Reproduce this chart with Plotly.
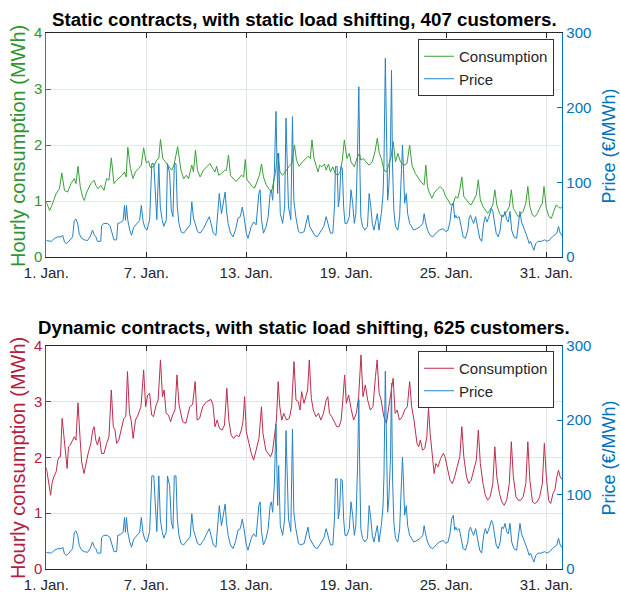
import pandas as pd
import plotly.graph_objects as go

START = pd.Timestamp("2021-01-01 00:00")
END_HOURS = 743  # last hourly sample of January

# Static contracts, hourly consumption (day offset from 1 Jan 00:00, MWh)
static_days = [
    0.00, 0.20, 0.33, 0.59, 0.79, 0.93, 1.09, 1.28, 1.48, 1.68, 1.78, 1.90, 2.04, 2.18, 2.28, 2.43,
    2.67, 2.87, 2.97, 3.11, 3.27, 3.46, 3.62, 3.76, 3.90, 4.06, 4.22, 4.35, 4.55, 4.69, 4.79, 4.89,
    5.05, 5.20, 5.35, 5.54, 5.70, 5.84, 6.00, 6.14, 6.24, 6.43, 6.63, 6.75, 6.85, 6.99, 7.19, 7.33,
    7.52, 7.66, 7.88, 8.08, 8.24, 8.40, 8.53, 8.73, 8.83, 8.95, 9.07, 9.23, 9.43, 9.63, 9.82, 9.98,
    10.12, 10.22, 10.34, 10.51, 10.71, 10.81, 10.93, 11.05, 11.21, 11.37, 11.50, 11.70, 11.84, 11.94,
    12.04, 12.20, 12.36, 12.50, 12.63, 12.79, 12.91, 13.03, 13.19, 13.39, 13.52, 13.62, 13.74, 13.88,
    14.02, 14.18, 14.38, 14.57, 14.73, 14.89, 15.01, 15.17, 15.37, 15.56, 15.72, 15.84, 15.94, 16.06,
    16.20, 16.30, 16.40, 16.53, 16.69, 16.79, 16.93, 17.05, 17.19, 17.33, 17.49, 17.64, 17.76, 17.88,
    18.04, 18.18, 18.28, 18.48, 18.67, 18.79, 18.87, 19.03, 19.17, 19.37, 19.56, 19.72, 19.86, 19.98,
    20.10, 20.26, 20.42, 20.55, 20.69, 20.81, 20.95, 21.09, 21.25, 21.45, 21.64, 21.80, 21.94, 22.14,
    22.34, 22.53, 22.67, 22.77, 22.87, 22.99, 23.13, 23.27, 23.43, 23.62, 23.82, 23.96, 24.10, 24.26,
    24.42, 24.55, 24.69, 24.81, 24.93, 25.05, 25.21, 25.35, 25.49, 25.64, 25.80, 25.92, 26.04, 26.20,
    26.34, 26.48, 26.63, 26.79, 26.91, 27.03, 27.19, 27.33, 27.47, 27.62, 27.78, 27.90, 28.02, 28.18,
    28.32, 28.48, 28.61, 28.77, 28.89, 29.01, 29.17, 29.31, 29.47, 29.60, 29.76, 29.86, 30.00, 30.16,
    30.30, 30.44, 30.59, 30.71, 30.83, 30.96,
]
static_mwh = [
    0.98, 0.83, 0.92, 1.13, 1.22, 1.50, 1.19, 1.16, 1.31, 1.40, 1.31, 1.62, 1.25, 1.07, 1.01, 1.16,
    1.31, 1.37, 1.28, 1.22, 1.28, 1.19, 1.40, 1.37, 1.77, 1.31, 1.37, 1.40, 1.46, 1.52, 1.43, 1.96,
    1.58, 1.40, 1.52, 1.58, 1.64, 1.95, 1.68, 1.71, 1.60, 1.61, 1.73, 1.76, 2.10, 1.76, 1.68, 1.61,
    1.55, 1.64, 1.97, 1.55, 1.40, 1.46, 1.40, 1.64, 1.52, 1.91, 1.55, 1.43, 1.55, 1.61, 1.67, 1.58,
    1.52, 1.62, 1.46, 1.49, 1.55, 1.55, 1.82, 1.46, 1.40, 1.35, 1.38, 1.46, 1.43, 1.74,
    1.38, 1.32, 1.26, 1.23, 1.35, 1.46, 1.66, 1.43, 1.29, 1.20, 1.17, 1.35, 1.49, 1.85,
    1.52, 1.46, 1.55, 1.62, 1.67, 2.00, 1.73, 1.62, 1.70, 1.76, 1.80, 1.76, 2.09, 1.76,
    1.61, 1.52, 1.64, 1.61, 1.66, 1.55, 1.66, 1.52, 1.61, 1.49, 1.46, 1.52, 1.73, 2.09,
    1.76, 1.85, 1.70, 1.61, 1.79, 1.85, 1.73, 1.76, 1.70, 1.64, 1.70, 1.88, 2.12, 1.85,
    1.76, 1.55, 1.52, 1.67, 1.79, 2.06, 1.70, 1.85, 1.70, 1.64, 1.67, 2.00, 1.64, 1.49,
    1.40, 1.32, 1.29, 1.64, 1.26, 1.14, 1.05, 1.14, 1.20, 1.26, 1.20, 1.08, 1.02, 0.93,
    0.96, 1.08, 1.05, 1.20, 1.43, 1.08, 1.02, 0.96, 0.93, 1.02, 1.11, 1.38, 1.02, 0.90,
    0.84, 0.78, 0.84, 0.93, 1.20, 0.93, 0.78, 0.72, 0.75, 0.81, 0.90, 1.20, 0.87, 0.78,
    0.72, 0.78, 0.81, 0.96, 1.26, 0.90, 0.75, 0.72, 0.78, 0.87, 0.96, 1.26, 0.87, 0.72,
    0.69, 0.81, 0.93, 0.90, 0.87, 0.90,
]

# Dynamic contracts, hourly consumption (day offset, MWh)
dynamic_days = [
    0.00, 0.14, 0.26, 0.34, 0.45, 0.59, 0.69, 0.79, 0.85, 0.95, 1.05, 1.15, 1.25, 1.33, 1.44, 1.58,
    1.68, 1.78, 1.90, 2.02, 2.12, 2.26, 2.38, 2.51, 2.67, 2.79, 2.87, 2.97, 3.07, 3.19, 3.31, 3.46,
    3.62, 3.76, 3.90, 4.02, 4.12, 4.22, 4.35, 4.49, 4.65, 4.77, 4.87, 4.99, 5.09, 5.21, 5.35, 5.50,
    5.68, 5.84, 5.96, 6.08, 6.20, 6.32, 6.43, 6.59, 6.71, 6.85, 6.97, 7.07, 7.19, 7.33, 7.46, 7.58,
    7.72, 7.84, 7.96, 8.18, 8.37, 8.61, 8.78, 8.93, 9.05, 9.20, 9.38, 9.62, 9.88, 10.00, 10.12, 10.25,
    10.39, 10.55, 10.69, 10.83, 10.95, 11.09, 11.24, 11.40, 11.56, 11.70, 11.80, 11.90, 12.00, 12.16,
    12.30, 12.44, 12.60, 12.76, 12.91, 13.00, 13.17, 13.31, 13.45, 13.57, 13.71, 13.81, 13.91, 14.01,
    14.13, 14.25, 14.41, 14.58, 14.72, 14.86, 14.98, 15.12, 15.22, 15.32, 15.46, 15.58, 15.68, 15.78,
    15.90, 16.02, 16.18, 16.33, 16.47, 16.63, 16.79, 16.89, 16.99, 17.13, 17.29, 17.43, 17.57, 17.69,
    17.79, 17.90, 18.00, 18.14, 18.28, 18.44, 18.60, 18.74, 18.88, 19.00, 19.14, 19.28, 19.44, 19.60,
    19.75, 19.85, 19.97, 20.09, 20.25, 20.41, 20.55, 20.69, 20.81, 20.93, 21.05, 21.19, 21.36, 21.50,
    21.66, 21.80, 21.92, 22.06, 22.24, 22.34, 22.44, 22.57, 22.71, 22.83, 22.93, 23.03, 23.17, 23.27,
    23.37, 23.50, 23.66, 23.82, 23.92, 24.06, 24.22, 24.36, 24.50, 24.65, 24.81, 24.93, 25.05, 25.21,
    25.35, 25.49, 25.64, 25.80, 25.92, 26.04, 26.20, 26.34, 26.48, 26.63, 26.79, 26.91, 27.03, 27.19,
    27.33, 27.47, 27.62, 27.78, 27.90, 28.02, 28.18, 28.32, 28.46, 28.61, 28.77, 28.89, 29.01, 29.17,
    29.31, 29.45, 29.60, 29.76, 29.88, 30.00, 30.14, 30.26, 30.40, 30.51, 30.63, 30.73, 30.83, 30.96,
]
dynamic_mwh = [
    1.82, 1.53, 1.32, 1.53, 1.65, 1.74, 1.95, 2.01, 2.01, 2.70, 2.37, 1.98, 1.80, 2.19, 2.22, 2.31,
    2.37, 2.31, 2.98, 2.37, 1.92, 1.71, 1.89, 2.07, 2.25, 2.49, 2.55, 2.31, 2.22, 2.37, 2.07, 2.07,
    2.25, 2.37, 3.21, 2.55, 2.49, 2.25, 2.31, 2.49, 2.70, 2.73, 3.54, 2.79, 2.67, 2.34, 2.67, 2.76,
    2.91, 3.57, 2.91, 3.12, 3.15, 2.76, 2.73, 2.94, 3.03, 3.75, 3.09, 3.21, 2.79, 2.76, 2.64, 2.76,
    2.85, 3.48, 2.95, 2.64, 2.61, 2.91, 2.95, 3.36, 2.67, 2.70, 2.91, 3.00, 3.04, 2.94, 2.55, 2.67,
    2.52, 2.49, 2.58, 3.24, 2.67, 2.40, 2.34, 2.40, 2.37, 2.49, 2.64, 3.09, 2.46, 2.25,
    2.07, 1.95, 2.13, 2.34, 2.91, 2.43, 2.13, 2.07, 2.01, 2.10, 2.46, 2.67, 3.36, 2.91,
    2.67, 2.79, 2.67, 2.70, 2.91, 3.72, 3.03, 3.00, 2.85, 3.18, 2.97, 3.09, 3.21, 3.75,
    3.06, 2.85, 2.73, 2.79, 2.67, 2.79, 3.03, 3.09, 2.79, 2.73, 2.64, 2.55, 2.55, 2.67,
    3.03, 3.48, 2.97, 3.12, 2.88, 2.67, 2.79, 3.09, 3.84, 3.09, 3.30, 3.03, 2.85, 2.91,
    3.45, 3.75, 3.15, 3.03, 2.73, 2.61, 2.91, 3.15, 3.42, 2.79, 2.85, 2.67, 2.73, 2.85,
    2.91, 3.36, 2.91, 2.67, 2.25, 2.19, 2.31, 2.13, 2.16, 2.37, 2.88, 2.43, 1.95, 1.71,
    1.89, 1.83, 1.98, 2.07, 2.01, 1.83, 1.59, 1.53, 1.65, 1.83, 2.01, 2.55, 2.01, 1.65,
    1.53, 1.59, 1.77, 1.95, 2.49, 1.89, 1.53, 1.32, 1.23, 1.29, 1.53, 2.19, 1.65, 1.35,
    1.20, 1.14, 1.23, 1.53, 2.28, 1.65, 1.29, 1.23, 1.23, 1.29, 1.53, 2.28, 1.59, 1.20,
    1.17, 1.20, 1.29, 1.53, 2.25, 1.65, 1.23, 1.17, 1.35, 1.41, 1.65, 1.77, 1.65, 1.60,
]

# Hourly spot price (day offset, €/MWh)
price_days = [
    0.00, 0.30, 0.49, 0.69, 0.89, 0.99, 1.09, 1.19, 1.32, 1.48, 1.58, 1.68, 1.78, 1.88, 1.98, 2.12,
    2.28, 2.47, 2.63, 2.77, 2.87, 2.97, 3.07, 3.27, 3.32, 3.46, 3.66, 3.82, 3.96, 4.06, 4.22, 4.29,
    4.45, 4.61, 4.69, 4.75, 4.81, 4.89, 5.01, 5.11, 5.25, 5.44, 5.60, 5.70, 5.80, 5.90, 6.04, 6.20,
    6.33, 6.45, 6.55, 6.63, 6.75, 6.84, 6.95, 7.05, 7.20, 7.27, 7.40, 7.50, 7.60, 7.68, 7.78, 7.86,
    7.96, 8.08, 8.24, 8.44, 8.63, 8.73, 8.83, 8.93, 9.07, 9.23, 9.43, 9.62, 9.78, 9.88, 10.02, 10.18,
    10.30, 10.38, 10.51, 10.61, 10.73, 10.81, 10.91, 11.05, 11.21, 11.37, 11.50, 11.64, 11.76, 11.86,
    12.00, 12.10, 12.30, 12.44, 12.59, 12.75, 12.83, 12.91, 13.03, 13.19, 13.31, 13.43, 13.50, 13.58,
    13.68, 13.78, 13.88, 13.94, 14.04, 14.18, 14.30, 14.38, 14.46, 14.53, 14.67, 14.77, 14.85, 14.97,
    15.13, 15.27, 15.47, 15.60, 15.70, 15.80, 15.94, 16.10, 16.26, 16.46, 16.65, 16.79, 16.89, 17.05,
    17.19, 17.29, 17.35, 17.45, 17.52, 17.60, 17.68, 17.76, 17.84, 17.92, 18.04, 18.18, 18.28, 18.38,
    18.48, 18.57, 18.67, 18.75, 18.81, 18.87, 18.97, 19.11, 19.27, 19.37, 19.47, 19.56, 19.66, 19.76,
    19.86, 19.96, 20.10, 20.20, 20.26, 20.34, 20.42, 20.48, 20.55, 20.65, 20.71, 20.77, 20.85, 20.95,
    21.09, 21.20, 21.31, 21.37, 21.43, 21.50, 21.60, 21.68, 21.80, 21.90, 22.04, 22.24, 22.44, 22.59,
    22.67, 22.75, 22.87, 23.03, 23.19, 23.39, 23.58, 23.82, 23.96, 24.10, 24.22, 24.32, 24.42, 24.50,
    24.57, 24.65, 24.77, 24.89, 25.01, 25.15, 25.29, 25.37, 25.45, 25.54, 25.64, 25.76, 25.88, 26.00,
    26.12, 26.24, 26.34, 26.44, 26.53, 26.63, 26.71, 26.79, 26.87, 26.99, 27.11, 27.23, 27.33, 27.43,
    27.52, 27.62, 27.72, 27.82, 27.92, 28.06, 28.22, 28.34, 28.42, 28.51, 28.61, 28.73, 28.85, 28.97,
    29.05, 29.17, 29.25, 29.37, 29.50, 29.70, 29.90, 30.04, 30.20, 30.36, 30.50, 30.63, 30.73, 30.83,
    30.96,
]
price_eur = [
    22, 21, 25, 27, 27, 29, 20, 18, 20, 25, 27, 49, 51, 45, 31, 25,
    23, 22, 27, 36, 30, 27, 21, 21, 42, 45, 45, 42, 31, 23, 23, 45,
    46, 49, 69, 49, 69, 49, 36, 29, 40, 45, 49, 69, 49, 40, 36, 50,
    125, 125, 81, 50, 125, 67, 50, 41, 50, 125, 112, 63, 54, 125, 125, 67,
    45, 34, 32, 38, 43, 74, 52, 45, 34, 32, 38, 47, 54, 45, 32, 29,
    58, 85, 58, 72, 87, 63, 45, 32, 27, 38, 52, 54, 67, 54,
    32, 25, 41, 47, 43, 85, 90, 50, 32, 41, 54, 85, 90, 76,
    112, 195, 85, 139, 58, 45, 67, 186, 130, 67, 50, 188, 76, 54,
    34, 32, 34, 45, 56, 41, 36, 29, 27, 34, 41, 54, 45, 32,
    32, 67, 121, 121, 67, 81, 121, 119, 67, 45, 45, 54, 90, 72,
    45, 58, 134, 228, 125, 54, 41, 36, 41, 85, 67, 45, 36, 45,
    58, 36, 58, 83, 125, 266, 170, 76, 94, 148, 250, 125, 63, 41,
    36, 54, 117, 150, 117, 72, 85, 58, 45, 41, 36, 38, 41, 45,
    58, 47, 36, 29, 27, 32, 36, 38, 34, 36, 47, 67, 72, 52,
    56, 52, 54, 41, 27, 25, 36, 52, 56, 50, 45, 54, 38, 25,
    21, 45, 54, 47, 52, 58, 65, 61, 47, 32, 27, 36, 56, 54,
    61, 50, 47, 61, 36, 27, 25, 45, 61, 47, 41, 36, 27, 18,
    21, 14, 9, 18, 21, 21, 23, 21, 23, 27, 29, 32, 41, 32,
    28,
]

tick_days = [0, 6, 12, 18, 24, 30]
tick_labels = ["1. Jan.", "7. Jan.", "13. Jan.", "19. Jan.", "25. Jan.", "31. Jan."]
cons_ticks = [0, 1, 2, 3, 4]
price_ticks = [0, 100, 200, 300]

titles = [
    "Static contracts, with static load shifting, 407 customers.",
    "Dynamic contracts, with static load shifting, 625 customers.",
]


def to_time(days):
    return START + pd.to_timedelta(pd.Series(days, dtype=float), unit="D")


GREEN = "#2F962F"
GREEN_LINE = "#3A9F3A"
RED = "#B3203F"
RED_LINE = "#BC2D4B"
BLUE = "#0072BD"
BLUE_LINE = "#2482C6"
INK = "#262626"
FONT = "Liberation Sans, Arial, sans-serif"

x_range = [START, START + pd.Timedelta(hours=END_HOURS)]
tick_times = list(to_time(tick_days))

fig = go.Figure()

# top panel
fig.add_trace(go.Scatter(x=to_time(static_days), y=static_mwh, name="Consumption",
                         mode="lines", line=dict(color=GREEN_LINE, width=1),
                         xaxis="x", yaxis="y", legend="legend"))
fig.add_trace(go.Scatter(x=to_time(price_days), y=price_eur, name="Price",
                         mode="lines", line=dict(color=BLUE_LINE, width=1),
                         xaxis="x", yaxis="y2", legend="legend"))
# bottom panel
fig.add_trace(go.Scatter(x=to_time(dynamic_days), y=dynamic_mwh, name="Consumption",
                         mode="lines", line=dict(color=RED_LINE, width=1),
                         xaxis="x2", yaxis="y3", legend="legend2"))
fig.add_trace(go.Scatter(x=to_time(price_days), y=price_eur, name="Price",
                         mode="lines", line=dict(color=BLUE_LINE, width=1),
                         xaxis="x2", yaxis="y4", legend="legend2"))

x_dom = [46.3 / 620, 562.3 / 620]
top_dom = [1 - 257 / 594, 1 - 33 / 594]
bot_dom = [1 - 568.7 / 594, 1 - 346 / 594]


def xaxis(anchor):
    return dict(domain=x_dom, anchor=anchor, type="date", range=x_range,
                tickmode="array", tickvals=tick_times, ticktext=tick_labels,
                ticks="inside", ticklen=5, tickcolor=INK, showline=True,
                linecolor=INK, linewidth=1, mirror="ticks", showgrid=True,
                gridcolor="#E4E4E4", zeroline=False, automargin=False,
                ticklabelstandoff=2,
                tickfont=dict(family=FONT, size=15, color=INK))


def left_axis(anchor, dom, color, grid):
    return dict(domain=dom, anchor=anchor, range=[0, 4], tickmode="array",
                tickvals=cons_ticks, ticks="inside", ticklen=5, tickcolor=color,
                showline=True, linecolor=color, linewidth=1, showgrid=True,
                gridcolor=grid, zeroline=False, automargin=False,
                tickfont=dict(family=FONT, size=15, color=color))


def right_axis(anchor, over):
    return dict(overlaying=over, anchor=anchor, side="right", range=[0, 300],
                tickmode="array", tickvals=price_ticks, ticks="inside", ticklen=5,
                tickcolor=BLUE, showline=True, linecolor=BLUE, linewidth=1,
                showgrid=False, zeroline=False, automargin=False,
                tickfont=dict(family=FONT, size=15, color=BLUE))


legend_style = dict(bgcolor="white", bordercolor="#333333", borderwidth=1,
                    font=dict(family=FONT, size=15, color=INK), itemwidth=30,
                    xanchor="right", yanchor="top", x=554 / 620, tracegroupgap=0)

annotations = []
for title, y_top, y_mid, color in [
    (titles[0], 1 - 19 / 594, 1 - 146 / 594, GREEN),
    (titles[1], 1 - 327 / 594, 1 - 458 / 594, RED),
]:
    annotations.append(dict(text="<b>%s</b>" % title, x=304 / 620, y=y_top,
                            xref="paper", yref="paper", showarrow=False,
                            xanchor="center", yanchor="middle",
                            font=dict(family=FONT, size=18.7, color="black")))
    annotations.append(dict(text="Hourly consumption (MWh)", x=18 / 620, y=y_mid,
                            xref="paper", yref="paper", showarrow=False, textangle=-90,
                            xanchor="center", yanchor="middle",
                            font=dict(family=FONT, size=20, color=color)))
    annotations.append(dict(text="Price (€/MWh)", x=608.5 / 620, y=y_mid,
                            xref="paper", yref="paper", showarrow=False, textangle=-90,
                            xanchor="center", yanchor="middle",
                            font=dict(family=FONT, size=18, color=BLUE)))

fig.update_layout(
    width=620, height=594, margin=dict(l=0, r=0, t=0, b=0, autoexpand=False),
    paper_bgcolor="white", plot_bgcolor="white",
    font=dict(family=FONT, color=INK),
    xaxis=xaxis("y"),
    yaxis=left_axis("x", top_dom, GREEN, "#DDEEDD"),
    yaxis2=right_axis("x", "y"),
    xaxis2=xaxis("y3"),
    yaxis3=left_axis("x2", bot_dom, RED, "#F3DCE0"),
    yaxis4=right_axis("x2", "y3"),
    legend=dict(legend_style, y=1 - 39 / 594),
    legend2=dict(legend_style, y=1 - 351 / 594),
    annotations=annotations,
    showlegend=True,
)

fig.write_html("out.html")
